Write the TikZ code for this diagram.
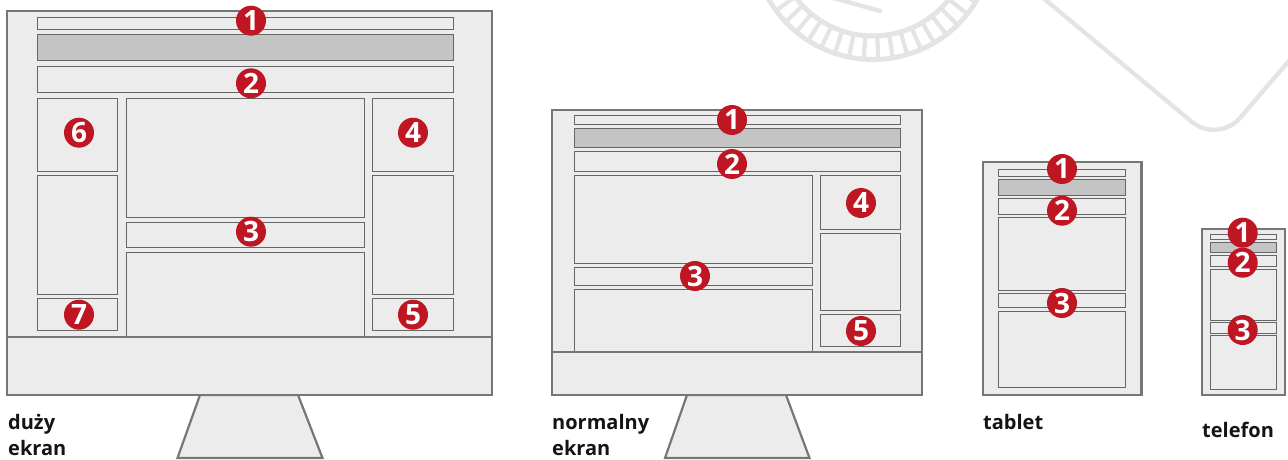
\documentclass[tikz,border=0pt]{standalone}
\usepackage{fontspec}
\usetikzlibrary{calc}
\setmainfont{Open Sans}
\definecolor{FrameGray}{RGB}{118, 118, 118}
\definecolor{PanelGray}{RGB}{236, 236, 236}
\definecolor{BannerGray}{RGB}{196, 196, 196}
\definecolor{BadgeRed}{RGB}{190, 22, 34}
\definecolor{WatermarkGray}{RGB}{228, 228, 228}
\begin{document}
\begin{tikzpicture}[
    x=1pt, y=-1pt,
    frame/.style={draw=FrameGray, fill=PanelGray, line width=2.2pt, line join=miter},
    panel/.style={draw=black!60, fill=PanelGray, line width=1pt},
    banner/.style={panel, fill=BannerGray},
    badge/.style={circle, fill=BadgeRed, text=white, inner sep=0pt, minimum size=30pt, font=\fontsize{28}{28}\selectfont\bfseries},
    caption/.style={anchor=north west, align=left, inner sep=0pt, text=black!92, font=\fontsize{20}{26}\selectfont\bfseries},
    watermark/.style={draw=WatermarkGray, line width=4.4pt, line cap=round, line join=round}
  ]
    \useasboundingbox (0,0) rectangle (1288,460);

    % Watermark behind the screens
    \begin{scope}
      \clip (0,0) rectangle (1288,460);
      \draw[watermark, line width=5pt] (873,-61) circle (120.5);
      \draw[watermark, line width=5pt] (873,-61) circle (97);
      \foreach \a in {3.5,10.5,...,177}
        \draw[draw=WatermarkGray, line width=4.2pt] ($(873,-61)+(\a:97)$) -- ($(873,-61)+(\a:121)$);
      \draw[watermark] (880,11) -- (830,-3);
      \draw[watermark, rounded corners=34pt] (1030,-13) -- (1218,143.6) -- (1300,48);
    \end{scope}

    % Large screen
    \draw[frame] (298,395) -- (322.5,458) -- (177.5,458) -- (200,395) -- cycle;
    \draw[frame] (7,11) rectangle (492,395);
    \draw[panel] (37,17.5) rectangle (453.3,30);
    \draw[banner] (37,35) rectangle (453.3,61);
    \draw[panel] (37,66.7) rectangle (453.3,92.5);
    \draw[panel] (37,98) rectangle (117.3,171.7);
    \draw[panel] (37,175.7) rectangle (117.3,294);
    \draw[panel] (37,298.5) rectangle (117.3,330);
    \draw[panel] (126.3,98) rectangle (364.3,217.3);
    \draw[panel] (126.3,222.7) rectangle (364.3,247);
    \draw[panel] (126.3,337) -- (126.3,252) -- (364.3,252) -- (364.3,337);
    \draw[panel] (372.7,98) rectangle (453.3,171.7);
    \draw[panel] (372.7,175.7) rectangle (453.3,294);
    \draw[panel] (372.7,298.5) rectangle (453.3,330);
    \draw[frame, line width=1.8pt] (7,337.3) -- (492,337.3);

    \node[badge] (large1) at (251,20.7) {1};
    \node[badge] (large2) at (251,83.3) {2};
    \node[badge] (large3) at (251,231.7) {3};
    \node[badge] (large4) at (413,132.7) {4};
    \node[badge] (large5) at (413,314.7) {5};
    \node[badge] (large6) at (79,132.7) {6};
    \node[badge] (large7) at (79,314.7) {7};
    \node[caption] (largelabel) at (8,414) {duży\\ekran};

    % Normal screen
    \draw[frame] (786,395) -- (809.5,458) -- (665,458) -- (687,395) -- cycle;
    \draw[frame] (552,110) rectangle (922,395);
    \draw[panel] (574,115.7) rectangle (900,124.3);
    \draw[banner] (574,128.7) rectangle (900,147.7);
    \draw[panel] (574,151.7) rectangle (900,171);
    \draw[panel] (574,175) rectangle (812,263.3);
    \draw[panel] (574,267.7) rectangle (812,285);
    \draw[panel] (574,352) -- (574,289) -- (812,289) -- (812,352);
    \draw[panel] (820,175) rectangle (900,229.3);
    \draw[panel] (820,233.3) rectangle (900,310.7);
    \draw[panel] (820,314.7) rectangle (900,346.7);
    \draw[frame, line width=1.8pt] (552,352) -- (922,352);

    \node[badge] (normal1) at (732,120) {1};
    \node[badge] (normal2) at (732,164) {2};
    \node[badge] (normal3) at (695,276) {3};
    \node[badge] (normal4) at (861,203) {4};
    \node[badge] (normal5) at (861,331) {5};
    \node[caption] (normallabel) at (552,414) {normalny\\ekran};

    % Tablet
    \draw[frame] (983,162) rectangle (1141.5,395);
    \draw[panel] (998,169) rectangle (1125.7,176.3);
    \draw[banner] (998,179.7) rectangle (1125.7,195.3);
    \draw[panel] (998,198.7) rectangle (1125.7,214.3);
    \draw[panel] (998,217.7) rectangle (1125.7,290);
    \draw[panel] (998,293.7) rectangle (1125.7,307.7);
    \draw[panel] (998,311.3) rectangle (1125.7,387.7);

    \node[badge] (tablet1) at (1062,169) {1};
    \node[badge] (tablet2) at (1062,210.7) {2};
    \node[badge] (tablet3) at (1062,303) {3};
    \node[caption] (tabletlabel) at (983,414) {tablet};

    % Phone
    \draw[frame] (1202,229) rectangle (1285,395);
    \draw[panel] (1210,234.3) rectangle (1276.3,239.3);
    \draw[banner] (1210,242.3) rectangle (1276.3,252.7);
    \draw[panel] (1210,255.3) rectangle (1276.3,266.7);
    \draw[panel] (1210,269) rectangle (1276.3,320.3);
    \draw[panel] (1210,322.7) rectangle (1276.3,333);
    \draw[panel] (1210,335.3) rectangle (1276.3,389.3);

    \node[badge] (phone1) at (1242.7,232.7) {1};
    \node[badge] (phone2) at (1242.7,262.7) {2};
    \node[badge] (phone3) at (1242.7,330) {3};
    \node[caption] (phonelabel) at (1202,422) {telefon};
  \end{tikzpicture}
\end{document}
